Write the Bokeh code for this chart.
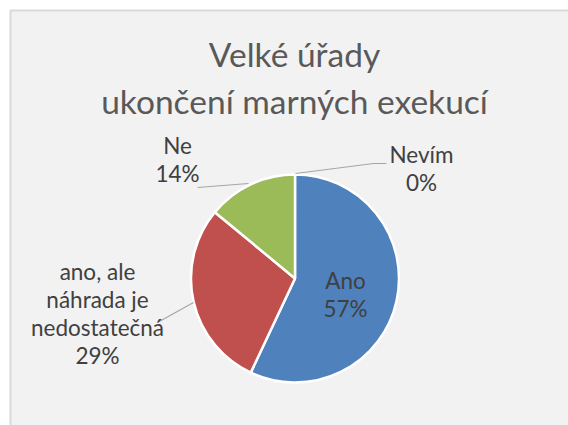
import numpy as np
from bokeh.plotting import figure
from bokeh.models import ColumnDataSource, Range1d
from bokeh.core.properties import value
from bokeh.embed import file_html
from bokeh.resources import INLINE

# ---- data ----
title_lines = ["Velké úřady", "ukončení marných exekucí"]
categories = ["Ano", "ano, ale náhrada je nedostatečná", "Ne", "Nevím"]
percents = [57, 29, 14, 0]
colors = ["#4F81BD", "#C0504D", "#9BBB59", "#8064A2"]

# label wrapping (layout)
label_lines = [["Ano"], ["ano, ale", "náhrada je", "nedostatečná"], ["Ne"], ["Nevím"]]

# ---- layout ----
W, H = 568, 425
FONT = "Lato"


def fx(x):
    return x


def fy(y):
    return H - y


CX, CY, R = fx(294.5), fy(278), 104.0

p = figure(width=W, height=H, x_range=Range1d(0, W), y_range=Range1d(0, H),
           output_backend="svg", toolbar_location=None, min_border=0)
p.axis.visible = False
p.grid.visible = False
p.outline_line_color = None
p.background_fill_color = "white"
p.border_fill_color = "white"

# chart area background with left/top border
p.quad(left=fx(10), right=W + 20, bottom=-20, top=fy(10), fill_color="#F2F2F2",
       line_color="#D9D9D9", line_width=2)

# ---- pie ----
frac = np.array(percents, dtype=float) / sum(percents)
ends = np.cumsum(frac) * 2 * np.pi
starts = ends - frac * 2 * np.pi
mask = frac > 0
src = ColumnDataSource(dict(
    start=(np.pi / 2 - starts)[mask],
    end=(np.pi / 2 - ends)[mask],
    color=np.array(colors)[mask],
))
p.wedge(x=CX, y=CY, radius=R, start_angle="start", end_angle="end",
        direction="clock", fill_color="color", line_color="white",
        line_width=2.5, source=src)

# ---- leader lines ----
leaders = [
    [(197, 187), (248, 183)],                 # Ne
    [(295, 173), (373, 163), (386, 163)],     # Nevím
    [(193, 302), (157, 322)],                 # ano, ale ...
]
p.multi_line(xs=[[fx(a) for a, b in seg] for seg in leaders],
             ys=[[fy(b) for a, b in seg] for seg in leaders],
             line_color="#A6A6A6", line_width=1.2)

# ---- data labels ----
anchors = [(345, 280), (97, 271), (177, 145), (421, 154)]
spacing = 28
tx, ty, tt = [], [], []
for lines, pct, (ax, ay) in zip(label_lines, percents, anchors):
    all_lines = lines + [f"{pct}%"]
    for i, s in enumerate(all_lines):
        tx.append(fx(ax))
        ty.append(fy(ay + i * spacing))
        tt.append(s)
p.text(x=tx, y=ty, text=tt, text_font=value(FONT), text_font_size="22.5px",
       text_color="#404040", text_align="center", text_baseline="alphabetic")

# ---- title ----
p.text(x=[fx(294), fx(294)], y=[fy(53), fy(100)], text=title_lines,
       text_font=value(FONT), text_font_size="33.5px", text_color="#595959",
       text_align="center", text_baseline="alphabetic")

open("out.html", "w").write(file_html(p, INLINE))
